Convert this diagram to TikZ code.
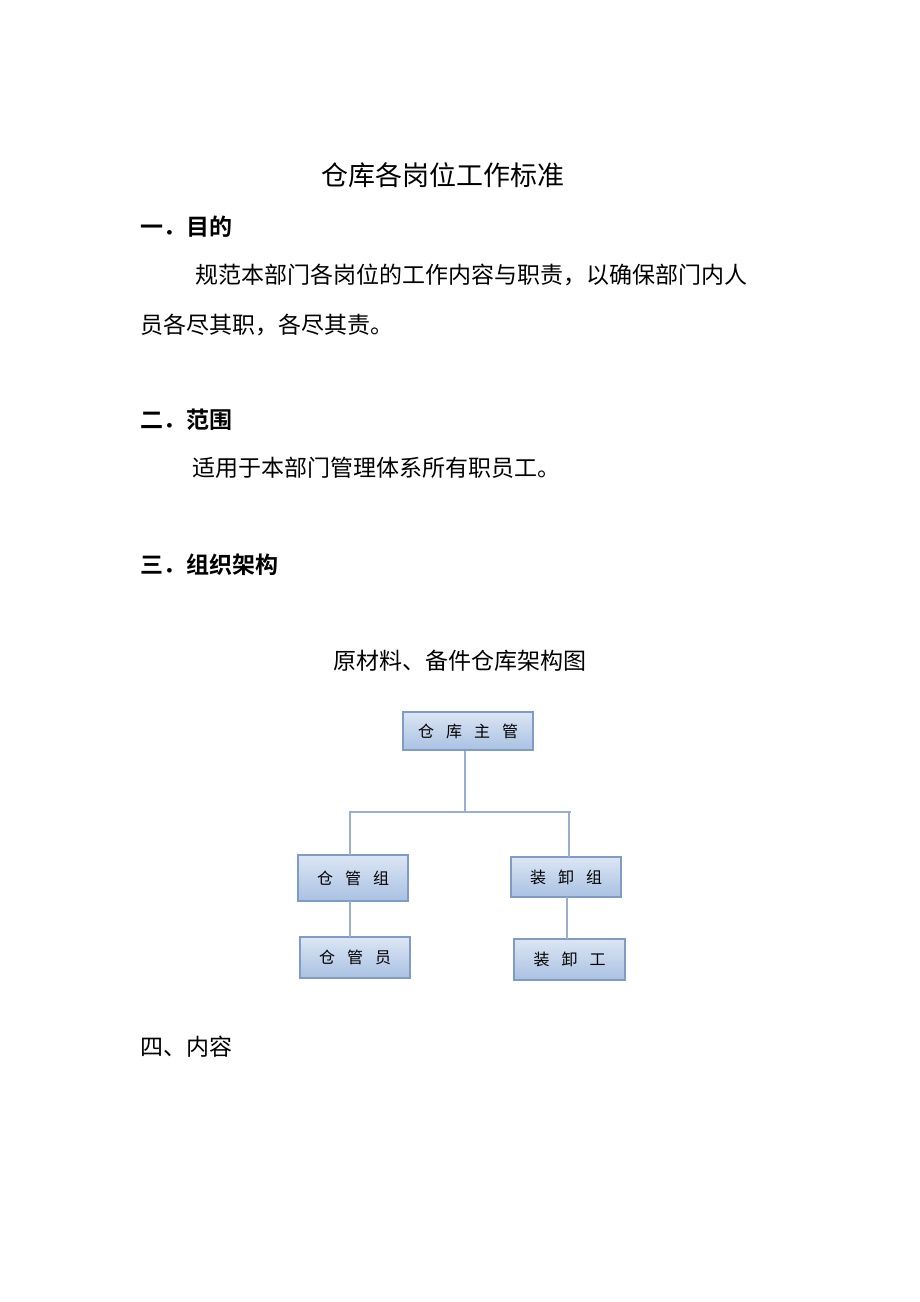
\documentclass[tikz,border=0pt]{standalone}
\usepackage{fontspec}
\newfontfamily\cjk{Noto Sans CJK SC}
\newfontfamily\cjkb{Noto Sans CJK SC Bold}
\usetikzlibrary{positioning}
\definecolor{boxedge}{HTML}{7F9CC8}
\definecolor{boxtop}{HTML}{DCE6F4}
\definecolor{boxbot}{HTML}{A9C1E2}
\definecolor{linec}{HTML}{98AED2}
\tikzset{
  txt/.style={anchor=west, inner sep=0pt, font=\cjk\fontsize{23}{23}\selectfont},
  head/.style={anchor=west, inner sep=0pt, font=\cjkb\fontsize{23}{23}\selectfont},
  orgbox/.style={draw=boxedge, line width=1.5pt, top color=boxtop, bottom color=boxbot,
    minimum width=#1, inner sep=0pt, font=\cjk\fontsize{16}{16}\selectfont},
  conn/.style={draw=linec, line width=2.8pt}
}
\begin{document}
\begin{tikzpicture}[x=1pt,y=-1pt]
\useasboundingbox[fill=white] (0,0) rectangle (920,1302);
\node[anchor=center, inner sep=0pt, font=\cjk\fontsize{27}{27}\selectfont] (title) at (443,175) {仓库各岗位工作标准};
\node[head] (h1) at (140,227) {一．目的};
\node[txt] (p1) at (195,275) {规范本部门各岗位的工作内容与职责，以确保部门内人};
\node[txt] (p2) at (140,325) {员各尽其职，各尽其责。};
\node[head] (h2) at (140,420) {二．范围};
\node[txt] (p3) at (192,468) {适用于本部门管理体系所有职员工。};
\node[head] (h3) at (140,565) {三．组织架构};
\node[anchor=center, inner sep=0pt, font=\cjk\fontsize{23}{23}\selectfont] (cap) at (460,661) {原材料、备件仓库架构图};

\node[orgbox=130pt, minimum height=38pt] (top) at (468,731) {仓\hspace{12pt}库\hspace{12pt}主\hspace{12pt}管};
\node[orgbox=110pt, minimum height=46pt] (lg) at (353,878) {仓\hspace{12pt}管\hspace{12pt}组};
\node[orgbox=110pt, minimum height=40pt] (rg) at (566,877) {装\hspace{12pt}卸\hspace{12pt}组};
\node[orgbox=110pt, minimum height=41pt] (lw) at (355,957.5) {仓\hspace{12pt}管\hspace{12pt}员};
\node[orgbox=111pt, minimum height=41pt] (rw) at (569.5,959.5) {装\hspace{12pt}卸\hspace{12pt}工};

\coordinate (jl) at (349,812);
\coordinate (jr) at (571,812);
\coordinate (jm) at (465,812);
\draw[conn] (top.south -| jm) -- (jm);
\draw[conn] (jl) -- (jr);
\draw[conn] (350,812) -- (350,855);
\draw[conn] (569,812) -- (569,857);
\draw[conn] (350,901) -- (350,937);
\draw[conn] (567,897) -- (567,939);

\node[anchor=west, inner sep=0pt, font=\cjk\fontsize{23}{23}\selectfont] (h4) at (140,1047) {四、内容};
\end{tikzpicture}
\end{document}
